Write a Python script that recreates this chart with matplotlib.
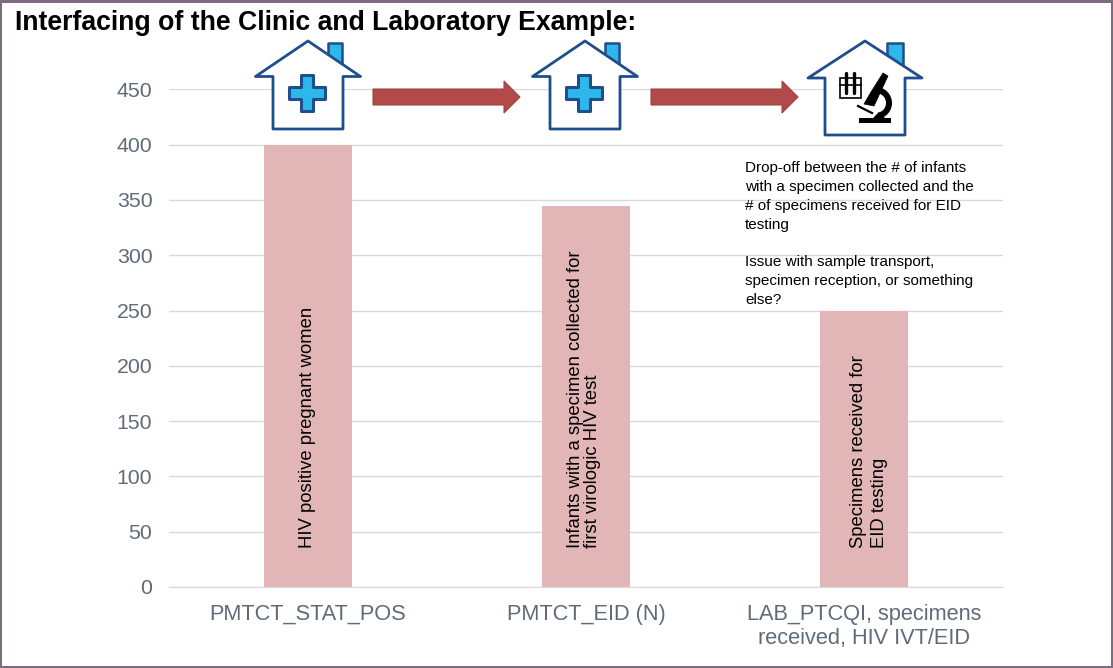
import matplotlib
matplotlib.use('Agg')
import matplotlib.pyplot as plt
from matplotlib.patches import Polygon, Rectangle, Wedge

W, H = 1113, 668

categories = ['PMTCT_STAT_POS', 'PMTCT_EID (N)', 'LAB_PTCQI, specimens\nreceived, HIV IVT/EID']
values = [400, 345, 250]
bar_labels = ['HIV positive pregnant women',
              'Infants with a specimen collected for\nfirst virologic HIV test',
              'Specimens received for\nEID testing']
yticks = [0, 50, 100, 150, 200, 250, 300, 350, 400, 450]
title = 'Interfacing of the Clinic and Laboratory Example:'
note = ('Drop-off between the # of infants\nwith a specimen collected and the\n'
        '# of specimens received for EID\ntesting\n\n'
        'Issue with sample transport,\nspecimen reception, or something\nelse?')

NAVY = '#1f4e8c'
SKY = '#2db7ea'
GREY = '#5f6b78'

plt.rcParams['font.family'] = ['Liberation Sans', 'DejaVu Sans']

fig = plt.figure(figsize=(W / 100, H / 100), dpi=100, facecolor='white')

# chart area
ax = fig.add_axes([169 / W, 1 - 587 / H, 834 / W, 497.6 / H])
x = list(range(len(categories)))
ax.bar(x, values, width=88 / 278, color='#e2b6b6', zorder=2)
ax.set_xlim(-0.5, 2.5)
ax.set_ylim(0, 450)
ax.set_yticks(yticks)
ax.set_xticks(x)
ax.set_xticklabels(categories, fontsize=15.7, color=GREY, linespacing=1.2)
ax.tick_params(axis='y', length=0, labelsize=15.3, labelcolor=GREY, pad=12)
ax.tick_params(axis='x', length=0, pad=12)
ax.grid(axis='y', color='#d9d9d9', linewidth=1, zorder=0)
for s in ['top', 'right', 'left']:
    ax.spines[s].set_visible(False)
ax.spines['bottom'].set_color('#d9d9d9')

# text inside the bars, each one sits a bit differently
shifts = [0.0, -0.007, 0.018]
spacings = [1.0, 0.98, 1.3]
for i, lab in enumerate(bar_labels):
    ax.text(i + shifts[i], 35, lab, rotation=90, ha='center', va='bottom', fontsize=13.3,
            color='black', multialignment='left', linespacing=spacings[i], zorder=3)

# overlay in pixel coordinates for the icons, arrows and title
ov = fig.add_axes([0, 0, 1, 1], zorder=5)
ov.set_xlim(0, W)
ov.set_ylim(H, 0)
ov.axis('off')


def house(cx, eave, wall, eave_y, bottom, ch0, ch1):
    ov.add_patch(Polygon([(cx + ch0, 72), (cx + ch0, 43), (cx + ch1, 43), (cx + ch1, 72)],
                         fc=SKY, ec=NAVY, lw=1.8, joinstyle='round'))
    pts = [(cx, 41), (cx + eave, eave_y), (cx + wall, eave_y), (cx + wall, bottom),
           (cx - wall, bottom), (cx - wall, eave_y), (cx - eave, eave_y)]
    ov.add_patch(Polygon(pts, fc='white', ec=NAVY, lw=2, joinstyle='round'))


def cross(cx, cy):
    a, b = 18, 6
    pts = [(cx - b, cy - a), (cx + b, cy - a), (cx + b, cy - b), (cx + a, cy - b),
           (cx + a, cy + b), (cx + b, cy + b), (cx + b, cy + a), (cx - b, cy + a),
           (cx - b, cy + b), (cx - a, cy + b), (cx - a, cy - b), (cx - b, cy - b)]
    ov.add_patch(Polygon(pts, fc=SKY, ec=NAVY, lw=2.2, joinstyle='round'))


def arrow(x0, x1):
    pts = [(x0, 89), (x1 - 16, 89), (x1 - 16, 81), (x1, 97), (x1 - 16, 113),
           (x1 - 16, 105), (x0, 105)]
    ov.add_patch(Polygon(pts, fc='#b34a4a', ec='#a04444', lw=0.8))


def lab_icon(cx):
    # test tube rack
    ov.add_patch(Rectangle((cx - 25, 78), 21, 20, fc='none', ec='black', lw=1.2))
    ov.plot([cx - 19, cx - 19], [73, 93], color='black', lw=2.4, solid_capstyle='round')
    ov.plot([cx - 11, cx - 11], [73, 93], color='black', lw=2.4, solid_capstyle='round')
    ov.plot([cx - 25, cx - 4], [85, 85], color='black', lw=1.2)
    # microscope
    ov.add_patch(Polygon([(cx + 18, 73), (cx + 23, 76), (cx + 9, 106), (cx - 1, 104), (cx + 6, 92)],
                         fc='black', ec='black', lw=0.5))
    ov.add_patch(Wedge((cx + 11, 103), 16, -75, 80, width=6, fc='black', ec='none'))
    ov.add_patch(Polygon([(cx + 8, 118), (cx + 14, 112), (cx + 20, 118)], fc='black', ec='none'))
    ov.add_patch(Rectangle((cx - 6, 118), 32, 5, fc='black', ec='none'))
    ov.plot([cx - 7, cx + 7], [106, 113], color='black', lw=1.6)


house(308, 52.5, 35, 76.5, 129, 20, 34)
cross(307, 93)
house(585, 52.5, 35, 76.5, 129, 20, 34)
cross(584, 93)
house(865, 57, 40, 78, 135, 22, 38)
lab_icon(865)
arrow(373, 520)
arrow(651, 798)

ov.text(15, 23, title, fontsize=19.2, fontweight='bold', color='black', ha='left', va='center')
ov.text(745, 161, note, fontsize=11, color='black', ha='left', va='top', linespacing=1.44)

# slide border
for r in [(0, 0, W, 3), (0, 0, 2, H), (W - 2, 0, 2, H), (0, H - 2, W, 2)]:
    ov.add_patch(Rectangle(r[:2], r[2], r[3], fc='#7d6b80', ec='none'))

fig.savefig('out.png', dpi=100)
